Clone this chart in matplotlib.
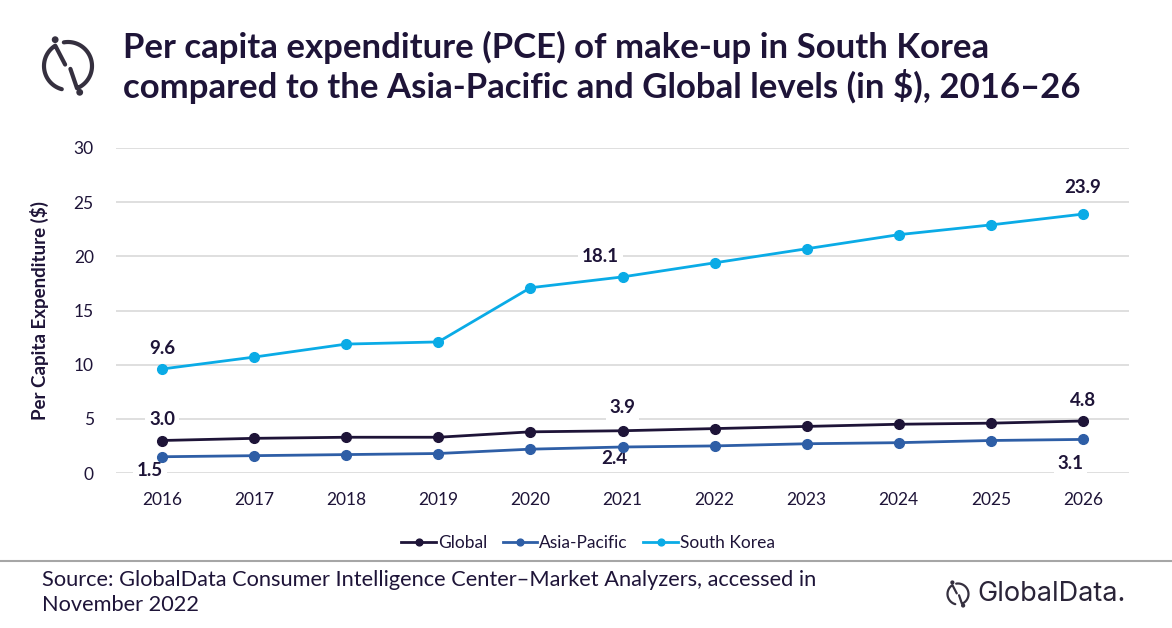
import matplotlib
matplotlib.use("Agg")
import numpy as np
import matplotlib.pyplot as plt
from matplotlib.patches import Circle
from matplotlib.lines import Line2D

years = [2016, 2017, 2018, 2019, 2020, 2021, 2022, 2023, 2024, 2025, 2026]
global_pce = [3.0, 3.2, 3.3, 3.3, 3.8, 3.9, 4.1, 4.3, 4.5, 4.6, 4.8]
asia_pacific_pce = [1.5, 1.6, 1.7, 1.8, 2.2, 2.4, 2.5, 2.7, 2.8, 3.0, 3.1]
south_korea_pce = [9.6, 10.7, 11.9, 12.1, 17.1, 18.1, 19.4, 20.7, 22.0, 22.9, 23.9]
series_names = ["Global", "Asia-Pacific", "South Korea"]
y_ticks = [0, 5, 10, 15, 20, 25, 30]

DARK = "#1e1438"
C_GLOBAL = "#1e1438"
C_AP = "#2e5ea6"
C_SK = "#0aabe6"
FONT = ["Lato", "DejaVu Sans"]

plt.rcParams["font.family"] = FONT

W, H = 1172, 628
fig = plt.figure(figsize=(W / 100, H / 100), dpi=100)

def fx(px):
    return px / W

def fy(py):
    return 1 - py / H

ax = fig.add_axes([fx(116), fy(473), fx(1129) - fx(116), fy(148) - fy(473)])
ax.set_xlim(2015.5, 2026.5)
ax.set_ylim(0, 30)
ax.set_yticks(y_ticks)
ax.set_xticks(years)
ax.set_xticklabels([str(y) for y in years])
ax.grid(axis="y", color="#d9d9d9", linewidth=1.2)
ax.set_axisbelow(True)
for s in ax.spines.values():
    s.set_visible(False)
ax.tick_params(length=0, labelsize=12.5, colors=DARK)
ax.tick_params(axis="y", pad=16)
ax.tick_params(axis="x", pad=14)
ax.set_ylabel("Per Capita Expenditure ($)", fontsize=13.5, fontweight="bold",
              color=DARK, labelpad=18)

lines = []
for vals, c, name in [(global_pce, C_GLOBAL, series_names[0]),
                      (asia_pacific_pce, C_AP, series_names[1]),
                      (south_korea_pce, C_SK, series_names[2])]:
    ln, = ax.plot(years, vals, color=c, linewidth=2, marker="o", markersize=7,
                  label=name, zorder=3)
    lines.append(ln)

bbox = dict(boxstyle="square,pad=0.2", fc="white", ec="none")

def lab(series, i, dx, dy):
    ax.annotate(f"{series[i]:.1f}", (years[i], series[i]), xytext=(dx, dy),
                textcoords="offset points", ha="center", va="center",
                fontsize=13.5, fontweight="bold", color=DARK, bbox=bbox, zorder=2.5)

lab(south_korea_pce, 0, 0, 15)
lab(south_korea_pce, 5, -16, 15)
lab(south_korea_pce, 10, 0, 19)
lab(global_pce, 0, 0, 15)
lab(global_pce, 5, 0, 16.5)
lab(global_pce, 10, 0, 15)
lab(asia_pacific_pce, 0, -8.6, -10)
lab(asia_pacific_pce, 5, -6, -8.6)
lab(asia_pacific_pce, 10, -9, -17)

leg = fig.legend(handles=lines, loc="center", bbox_to_anchor=(fx(588), fy(543)),
                 ncol=3, frameon=False, fontsize=12.5, handlelength=2.0,
                 handletextpad=0.1, columnspacing=0.9, markerscale=0.7)
for t in leg.get_texts():
    t.set_color(DARK)

# Title
fig.text(fx(123), fy(47), "Per capita expenditure (PCE) of make-up in South Korea",
         fontsize=25, fontweight="bold", color=DARK, va="center", ha="left")
fig.text(fx(123), fy(87), "compared to the Asia-Pacific and Global levels (in $), 2016\u201326",
         fontsize=25, fontweight="bold", color=DARK, va="center", ha="left")

# separator
fig.add_artist(Line2D([0, 1], [fy(561), fy(561)], color="#a6a6a6", linewidth=1.5))

# Source
fig.text(fx(42), fy(580), "Source: GlobalData Consumer Intelligence Center\u2013Market Analyzers, accessed in",
         fontsize=15.7, color=DARK, va="center", ha="left")
fig.text(fx(42), fy(605), "November 2022", fontsize=15.7, color=DARK, va="center", ha="left")

# Logo drawing helper (pixel coords, y down)
lax = fig.add_axes([0, 0, 1, 1], facecolor="none")
lax.set_xlim(0, W)
lax.set_ylim(H, 0)
lax.axis("off")

def logo(cx, cy, r, lw, col, dot_r):
    def P(deg, rr=r):
        t = np.radians(deg)
        return cx + rr * np.cos(t), cy - rr * np.sin(t)
    # left piece: arc from 255 deg through 180 to 122 deg, then slash inward
    t = np.linspace(255, 122, 60)
    xs, ys = P(t)
    xs = list(xs) + [cx - 0.12 * r]
    ys = list(ys) + [cy - 0.06 * r]
    lax.plot(xs, ys, color=col, lw=lw, solid_capstyle="round", solid_joinstyle="round")
    # right piece: arc from 100 deg through 0 to -68 deg, then slash inward
    t = np.linspace(100, -68, 60)
    xs, ys = P(t)
    xs = list(xs) + [cx + 0.1 * r]
    ys = list(ys) + [cy + 0.12 * r]
    lax.plot(xs, ys, color=col, lw=lw, solid_capstyle="round", solid_joinstyle="round")
    x1, y1 = P(116, 1.22 * r)
    x2, y2 = P(-66, 1.2 * r)
    lax.add_patch(Circle((x1, y1), dot_r, color=col))
    lax.add_patch(Circle((x2, y2), dot_r, color=col))

logo(68, 66, 24, 3.0, "#35303f", 2.7)
logo(958, 594, 10.5, 1.6, "#35303f", 1.4)
fig.text(fx(977), fy(594), "GlobalData.", fontsize=19.5, color="#2a2438",
         va="center", ha="left", family=["Inter", "DejaVu Sans"])

fig.savefig("out.png", dpi=100)
